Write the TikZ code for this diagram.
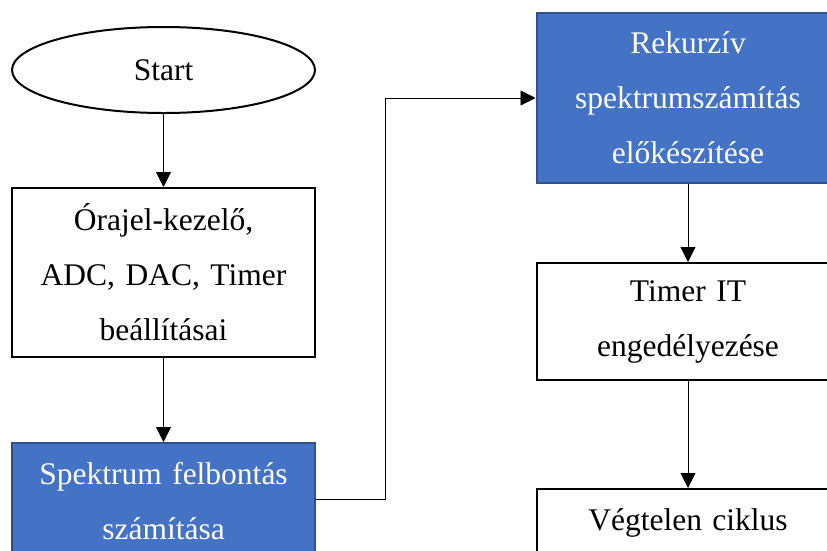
\documentclass[tikz,border=0pt]{standalone}
\usepackage{fontspec}
\setmainfont{Liberation Serif}
\usetikzlibrary{shapes.geometric,arrows.meta}
\definecolor{boxblue}{HTML}{4472C4}
\definecolor{boxedge}{HTML}{2F528F}
\tikzset{
  txt/.style={font=\fontsize{31.5}{55}\selectfont\frenchspacing, align=center, inner sep=0pt},
  whitebox/.style={txt, draw=black, line width=2pt, fill=white, minimum width=303pt, text width=300pt},
  bluebox/.style={txt, draw=boxedge, line width=2pt, fill=boxblue, text=white, minimum width=303pt, text width=300pt},
  startshape/.style={txt, ellipse, draw=black, line width=2pt, minimum width=303pt, minimum height=86pt},
  flow/.style={line width=0.9pt, -{Triangle[width=15pt,length=15pt]}}
}
\begin{document}
\begin{tikzpicture}[x=1pt,y=-1pt]
\clip (0,0) rectangle (827,550);
\fill[white] (0,0) rectangle (827,550);
\node[startshape] (start) at (163.5,70) {Start};
\node[whitebox, minimum height=169pt] (init) at (163.5,272.5) {Órajel-kezelő,\\ADC, DAC, Timer\\beállításai};
\node[bluebox, minimum height=117pt] (spec) at (163.5,501.5) {Spektrum felbontás\\számítása};
\node[bluebox, minimum height=170pt] (rek) at (688,98) {Rekurzív\\spektrumszámítás\\előkészítése};
\node[whitebox, minimum height=117pt] (timer) at (688,321.5) {Timer IT\\engedélyezése};
\node[whitebox, minimum height=117pt, text depth=55pt] (loop) at (688,547.5) {Végtelen ciklus};
\coordinate (bend) at (385,499);
\draw[flow] (start) -- (init);
\draw[flow] (init) -- (spec);
\draw[flow] (spec.east |- bend) -- (bend) |- (rek.west);
\draw[flow] (rek) -- (timer);
\draw[flow] (timer) -- (loop);
\end{tikzpicture}
\end{document}
